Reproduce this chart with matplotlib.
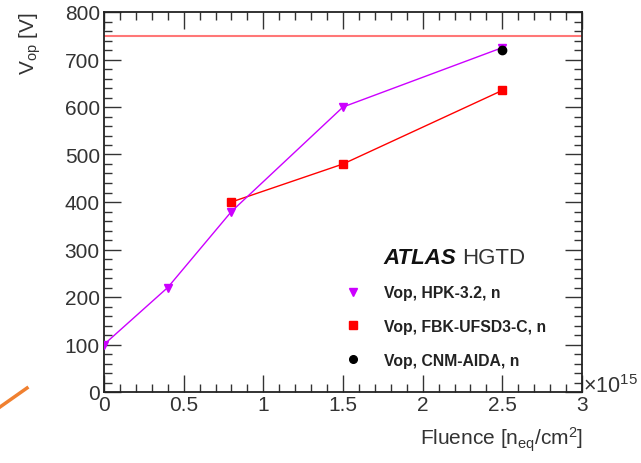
import matplotlib.pyplot as plt
from matplotlib.ticker import MultipleLocator
from matplotlib.lines import Line2D

plt.rcParams['font.family'] = ['Liberation Sans', 'DejaVu Sans']
plt.rcParams['mathtext.fontset'] = 'custom'
plt.rcParams['mathtext.rm'] = 'Liberation Sans'
plt.rcParams['mathtext.it'] = 'Liberation Sans:italic'

# data (fluence in 1e15 n_eq/cm^2, Vop in V)
hpk_x = [0.0, 0.4, 0.8, 1.5, 2.5]
hpk_y = [100, 220, 380, 600, 725]
fbk_x = [0.8, 1.5, 2.5]
fbk_y = [400, 480, 635]
cnm_x = [2.5]
cnm_y = [720]
limit_v = 750

txt = '#333333'
fig = plt.figure(figsize=(6.41, 4.64), dpi=100)
ax = fig.add_axes([104 / 641, 71 / 464, 478 / 641, 380 / 464])

ax.axhline(limit_v, color='#ff7777', linewidth=1.5, zorder=1)
ax.plot(hpk_x, hpk_y, color='#cc00ff', linewidth=1.0, marker='v',
        markersize=6, zorder=3)
ax.plot(fbk_x, fbk_y, color='#ff0000', linewidth=1.0, marker='s',
        markersize=6, zorder=2)
ax.plot(cnm_x, cnm_y, color='black', linestyle='none', marker='o',
        markersize=6, zorder=4)

ax.set_xlim(0, 3)
ax.set_ylim(0, 800)
ax.xaxis.set_major_locator(MultipleLocator(0.5))
ax.xaxis.set_minor_locator(MultipleLocator(0.1))
ax.yaxis.set_major_locator(MultipleLocator(100))
ax.yaxis.set_minor_locator(MultipleLocator(20))
ax.set_xticks([0, 0.5, 1, 1.5, 2, 2.5, 3])
ax.set_xticklabels(['0', '0.5', '1', '1.5', '2', '2.5', '3'])
ax.tick_params(which='both', direction='in', top=True, right=True,
               labelsize=15, colors=txt, pad=2)
ax.tick_params(axis='y', which='major', pad=3)
ax.tick_params(which='major', length=12, width=1)
ax.tick_params(which='minor', length=6, width=1)
for s in ax.spines.values():
    s.set_linewidth(1.3)
    s.set_color('#222222')

fig.text(583 / 641, 1 - 387 / 464, '×10$^{15}$', fontsize=15.5,
         va='center', ha='left', color=txt)
fig.text(583 / 641, 1 - 440 / 464, r'Fluence [n$_{\rm eq}$/cm$^2$]', fontsize=15,
         ha='right', va='center', color=txt)
fig.text(30 / 641, 1 - 44 / 464, r'V$_{\rm op}$ [V]', fontsize=15,
         rotation=90, ha='center', va='center', color=txt)

fig.text(383 / 641, 1 - 259 / 464, 'ATLAS', fontsize=16, fontweight='bold',
         style='italic', va='center', ha='left', color='#111111')
fig.text(462 / 641, 1 - 259 / 464, 'HGTD', fontsize=16, va='center',
         ha='left', color=txt)

handles = [
    Line2D([], [], color='#cc00ff', marker='v', linestyle='none', markersize=5.5),
    Line2D([], [], color='#ff0000', marker='s', linestyle='none', markersize=5.5),
    Line2D([], [], color='black', marker='o', linestyle='none', markersize=5.5),
]
labels = ['Vop, HPK-3.2, n', 'Vop, FBK-UFSD3-C, n', 'Vop, CNM-AIDA, n']
ax.legend(handles, labels, loc='upper left',
          bbox_to_anchor=(345 / 641, 1 - 286 / 464),
          bbox_transform=fig.transFigure,
          frameon=False, prop={'weight': 'bold', 'size': 11.3},
          handlelength=1.0, handletextpad=1.5, labelspacing=1.2,
          borderaxespad=0, borderpad=0, labelcolor='#222222')

# stray orange stroke at bottom-left of the screenshot
fig.add_artist(Line2D([0 / 641, 27 / 641], [1 - 408 / 464, 1 - 389 / 464],
                      color='#f08030', linewidth=2.5))

fig.savefig('out.png', dpi=100)
